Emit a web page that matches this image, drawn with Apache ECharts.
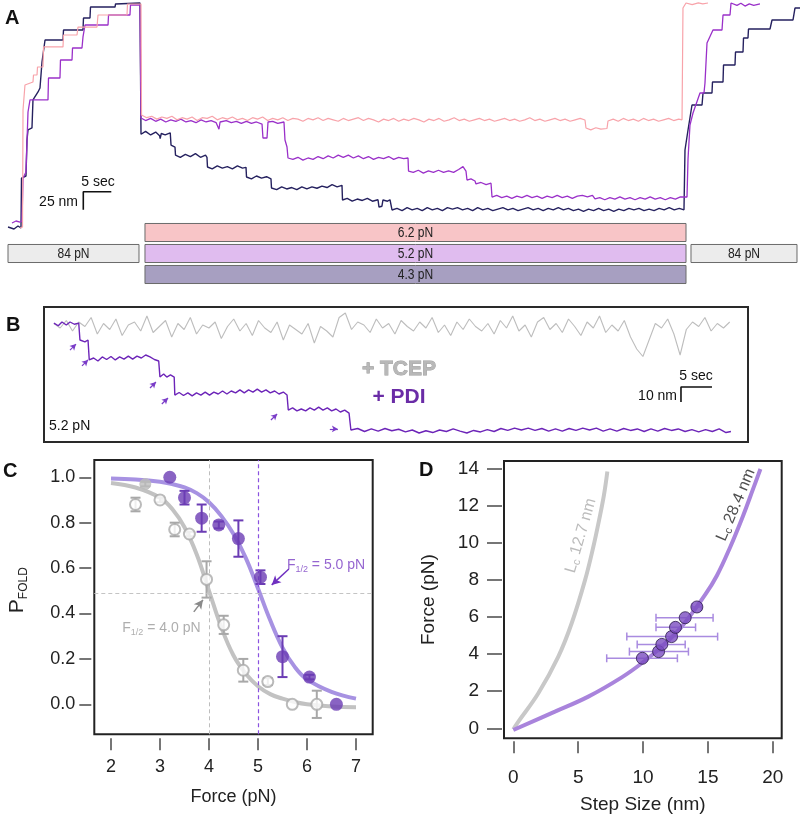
<!DOCTYPE html>
<html><head><meta charset="utf-8">
<script src="https://cdn.jsdelivr.net/npm/echarts@6/dist/echarts.min.js"></script>
<style>html,body{margin:0;padding:0;background:#fff}#c{width:800px;height:816px}</style>
</head><body><div id="c"></div>
<script>
// ================= DATA =================
// Panel A: extension traces, [time (s), extension (nm)]
const navyTraceA = [[1.43,4.2],[2.5,1.4],[3.21,5.6],[3.75,2.8],[3.84,72.2],[4.64,75],[4.82,125],[5,138.9],[5.71,141.7],[5.89,180.6],[6.79,191.7],[7.14,197.2],[7.5,233.3],[8.04,263.9],[11.25,263.9],[11.34,277.8],[14.82,277.8],[14.91,294.4],[16.07,294.4],[16.16,309.7],[20.54,309.7],[20.63,313.9],[25,315.3],
[25.18,133],[26.0,137],[26.9,132],[27.8,136],[28.5,131],[28.6,127],[28.8,134],[29.5,132],[30.4,135],[30.54,118],[31.25,115],
[31.34,104],[32.2,101],[33.1,105],[34.0,102],[34.9,106],[35.8,101],[36.7,104],[36.96,101],
[37.05,87.5],[37.9,85],[38.8,89],[39.7,86],[40.6,88],[41.5,85],[42.4,89],[43.3,86],[43.93,87],
[44.02,73.6],[44.9,71],[45.8,75],[46.7,72],[47.6,74],[48.39,71],
[48.48,58.3],[49.4,56],[50.3,60],[51.2,57],[52.1,59],[53.0,56],[53.9,60],[54.8,57],[55.7,60],[56.6,58],[57.5,61],[58.4,59],[59.3,63],[60.2,60],[61.07,62],
[61.16,41.7],[62.0,44],[62.9,40],[63.8,43],[64.7,41],[65.6,44],[66.5,40],[67.5,42],[67.68,31.9],[68.2,33],[68.39,41.7],[69.2,40],[69.64,42],
[70,27.8],[70.9,30],[71.8,27],[72.7,31],[73.6,28],[74.5,30],[75.4,27],[76.3,31],[77.2,28],[78.1,30],[79.0,27],[79.9,31],[80.8,29],[81.7,31],[82.6,28],[83.5,30],[84.4,27],[85.3,31],[86.2,28],[87.1,30],[88.0,27],[88.9,29],[89.8,31],[90.7,28],[91.6,30],[92.5,27],[93.4,29],[94.3,31],[95.2,28],[96.1,30],[97.0,27],[97.9,30],[98.8,28],[99.7,31],[100.6,28],[101.5,30],[102.4,27],[103.3,29],[104.2,26],[105.1,29],[106.0,27],[106.9,30],[107.8,27],[108.7,29],[109.6,26],[110.5,29],[111.4,27],[112.3,30],[113.2,28],[114.1,30],[115.0,27],[115.9,29],[116.8,27],[117.7,30],[118.6,28],[119.5,31],[120.4,28],[121.3,30],[122.14,28],
[122.32,111.1],[122.86,138.9],[123.57,173.6],[125.36,173.6],[125.54,190.3],[127.14,190.3],[127.23,205.6],[129.11,205.6],[129.2,229.2],[131.25,229.2],[131.34,247.2],[132.68,247.2],[132.77,266.7],[133.57,266.7],[133.66,279.2],[137.5,279.2],[137.86,291.7],[141.61,291.7],[141.96,308.3],[142.86,308.3]];
const purpleTraceA = [[2.14,9.7],[2.86,12.5],[3.57,11.1],[3.93,12.5],[4.11,72.2],[4.64,80.6],[5,163.9],[5.36,180.6],[8.57,180.6],[8.66,211.1],[10.71,211.1],[10.8,236.1],[12.86,236.1],[12.95,252.8],[14.64,252.8],[14.82,268.1],[15.18,284.7],[19.29,284.7],[19.38,298.6],[23.21,298.6],[23.3,312.5],[25,312.5],
[25.18,155.6],[26.0,152],[26.9,155],[27.8,151],[28.7,154],[29.6,150],[30.5,153],[31.4,151],[32.3,154],[33.2,150],[34.1,152],[35.0,149],[35.9,153],[36.8,150],[37.7,152],[38.6,149],[39.1,140],[39.3,150],[40.4,152],[41.3,149],[42.2,151],[43.1,148],[44.0,151],[44.9,148],[45.8,150],[46.79,147.2],[46.96,127.8],[47.68,127.8],[47.86,150],[48.7,151],[49.6,148],[50.71,150],[50.89,125],[51.25,115.3],
[51.43,100],[52.3,98],[53.2,101],[54.1,97],[55.0,100],[55.9,98],[56.8,102],[57.7,99],[58.6,103],[59.5,100],[60.4,104],[61.3,101],[62.2,104],[63.1,100],[64.0,103],[64.9,99],[65.8,102],[66.7,98],[67.6,101],[68.5,99],[69.4,102],[70.3,98],[71.2,101],[72.1,99],[72.86,100],
[72.95,81.9],[73.8,80],[74.7,83],[75.6,79],[76.5,82],[77.4,80],[78.3,83],[79.2,80],[80.1,82],[81.0,80],[81.9,84],[82.68,88],[83.21,81.9],[83.39,69.4],[84.1,71],[84.82,68.1],[85,63.9],[85.9,66],[86.8,63],[87.68,65],
[87.86,45.8],[88.7,48],[89.6,45],[90.5,47],[91.4,44],[92.3,47],[93.2,45],[94.1,48],[95.0,45],[95.9,47],[96.8,44],[97.7,47],[98.6,45],[99.5,48],[100.4,45],[101.3,47],[102.2,44],[103.1,47],[104.0,48],[104.9,46],[105.8,48],[106.25,43.1],[107.1,45],[108.0,42],[108.9,45],[109.8,43],[110.7,46],[111.6,43],[112.5,45],[113.4,42],[114.3,45],[115.2,43],[116.1,46],[117.0,43],[117.9,45],[118.8,42],[119.7,45],[120.6,43],[121.5,46],[122.68,45.8],
[122.86,98.6],[123.21,145.8],[123.75,162.5],[125,190.3],[125.71,190.3],[125.89,204.2],[126.25,259.7],[127.32,277.8],[128.93,277.8],[129.11,298.6],[130.36,298.6],[130.54,315.3],[131.6,312],[132.3,315],[133.04,311],[133.8,314],[134.6,312],[135.71,313.9]];
const pinkTraceA = [[3.57,2.8],[4.02,4.2],[4.11,166.7],[4.46,201.4],[5.89,205.6],[5.98,215.3],[6.61,215.3],[6.7,226.4],[7.68,226.4],[7.77,254.2],[11.25,254.2],[11.34,270.8],[13.75,270.8],[13.93,281.9],[17.32,281.9],[17.5,298.6],[22.68,298.6],[22.77,313.9],[25.18,313.9],
[25.27,159.7],[26.2,156],[27.1,158],[28.0,154],[28.9,157],[29.8,155],[30.7,158],[31.6,153],[32.5,156],[33.4,154],[34.3,157],[35.2,152],[36.1,156],[37.0,155],[37.9,158],[38.8,153],[39.7,156],[40.6,154],[41.5,157],[42.4,153],[43.3,155],[44.2,152],[45.1,156],[46.0,154],[46.9,157],[47.8,152],[48.7,155],[49.6,153],[50.5,156],[51.4,152],[52.3,155],[53.2,154],[54.1,151],[55.0,155],[55.9,153],[56.8,156],[57.7,152],[58.6,155],[59.5,153],[60.4,151],[61.3,155],[62.2,152],[63.1,154],[64.0,156],[64.9,152],[65.8,155],[66.7,153],[67.6,150],[68.5,154],[69.4,152],[70.3,155],[71.2,151],[72.1,154],[73.0,152],[73.9,155],[74.8,153],[75.7,150],[76.6,154],[77.5,152],[78.4,155],[79.3,151],[80.2,153],[81.1,156],[82.0,152],[82.9,154],[83.8,151],[84.7,153],[85.6,155],[86.5,152],[87.4,154],[88.3,151],[89.2,153],[90.1,155],[91.0,152],[91.9,154],[92.8,151],[93.7,153],[94.6,156],[95.5,152],[96.4,154],[97.3,151],[98.2,153],[99.1,155],[100.0,152],[100.9,154],[101.8,151],[102.7,153],[103.6,155],[104.46,152.8],
[104.64,141.7],[105.5,139],[106.4,142],[107.3,140],[108.39,141],[108.57,151.4],[109.5,154],[110.4,151],[111.3,155],[112.2,152],[113.1,154],[114.0,151],[114.9,155],[115.8,152],[116.7,154],[117.6,151],[118.5,153],[119.4,155],[120.3,152],[121.2,154],[121.79,153],
[121.96,308.3],[122.5,315.3],[123.6,313],[124.7,315.5],[125.5,314],[126.43,315.3]];
// Force protocol boxes
const barLabels = ['6.2 pN','84 pN','5.2 pN','84 pN','4.3 pN'];
const barStart = [25.89, 1.43, 25.89, 123.39, 25.89];
const barEnd = [122.5, 24.82, 122.5, 142.32, 122.5];
const barRow = [0, 1, 1, 1, 2];
// Scale bar A: origin (s, nm), 5 sec, 25 nm
const scaleA = [14.875, 53.2, 5, 25];

// Panel B
const tcepStartB = 1.6, tcepStepB = 1.0;
const tcepTraceB = [79,76,81,74,80,77,83,72,79,75, 82,71,78,80,74,84,73,77,81,70, 79,75,83,72,78,76,80,69,77,82,
74,79,71,81,76,73,80,68,78,75, 72,79,66,77,74,70,83,86,75,80, 78,73,82,76,79,72,81,77,74,80,
76,83,73,78,71,80,75,82,77,74, 79,72,81,76,84,74,78,70,80,83, 75,79,73,82,77,71,80,76,84,73,
78,74,81,70,62,57,68,79,76,82, 72,58,75,80,77,83,74,79,76,80];
const pdiTraceB = [[1.6,79.3],[2.3,77.5],[2.9,80],[3.6,78],[4.2,80],[4.9,78.5],[5.6,79.3],[5.8,68],[6.6,66.7],[7.1,68],[7.3,54.7],[8,56],[8.7,54],[9.4,56.7],[10.1,55],[10.8,57],[11.5,54.7],[12.2,56.7],[12.9,55.3],[13.6,57.3],[14.3,55.3],[15,57.3],[15.7,56],[16.4,58],[17.1,56.7],[17.8,55],[18.5,54],[18.7,43.3],[19.3,45.3],[19.8,43.3],[20.4,44.7],[21,43.3],
[21.1,31.3],[21.8,33],[22.5,31],[23.2,32.7],[23.9,30.7],[24.6,32.7],[25.3,31.3],[26,33.3],[26.7,31.3],[27.4,33.3],[28.1,32],[28.8,34],[29.5,32],[30.2,34],[30.9,32.7],[31.6,34.7],[32.3,32.7],[33,34.7],[33.7,33.3],[34.4,35.3],[35.1,33.3],[35.8,34.7],[36.5,32.7],[37.2,34],[37.9,32],[38.6,33.3],[39.2,31.3],
[39.4,21.3],[40.1,22.7],[40.8,20.7],[41.5,22],[42.2,20.7],[42.9,22.7],[43.6,21.3],[44.3,23.3],[45,21.3],[45.7,22.7],[46.4,20.7],[47.1,22],[47.8,20],[48.5,21.3],[49.2,19.3],
[49.5,8],[50.6,9],[51.7,7],[52.8,8.7],[53.9,7.3],[55,9],[56.1,7.5],[57.2,8.5],[58.3,6.7],[59.4,8],[60.5,6],[61.6,7.5],[62.7,6.3],[63.8,8],[64.9,7],[66,8.7],[67.1,7.3],[68.2,6],[69.3,7.7],[70.4,6.7],[71.5,8.3],[72.6,7],[73.7,9],[74.8,7.7],[75.9,9.3],[77,8],[78.1,9.3],[79.2,7.7],[80.3,9],[81.4,7.3],[82.5,8.7],[83.6,7.3],[84.7,9],[85.8,7.7],[86.9,9.3],[88,8],[89.1,9.3],[90.2,7.3],[91.3,8.7],[92.4,7.3],[93.5,9],[94.6,7.7],[95.7,8.7],[96.8,7],[97.9,8.7],[99,7.3],[100.1,9],[101.2,7.7],[102.3,8.7],[103.4,7],[104.5,8.3],[105.6,6.7],[106.7,8.3],[107.8,7],[108.9,8.7],[110,6.3],[110.8,7]];
const arrowsB = [[[4.19,61.3],[5.16,65.3]],[[6.13,50.7],[7.10,54.7]],[[17.1,36],[18.06,40]],[[19.0,25.3],[20.0,29.3]],[[36.6,14.7],[37.6,18.7]],[[46.1,8.7],[47.4,8.7]]];
const scaleB = [102.74, 36.67, 5, 10];

// Panel C: P_FOLD vs force
const tcepForce = [2.5, 2.7, 3.0, 3.3, 3.6, 3.95, 4.3, 4.7, 5.2, 5.7, 6.2];
const tcepP =     [0.88, 0.97, 0.90, 0.77, 0.75, 0.55, 0.35, 0.15, 0.10, 0.00, 0.00];
const tcepErr =   [0.03, 0.01, 0.01, 0.03, 0.01, 0.08, 0.04, 0.05, 0.015, 0, 0.06];
const tcepOpen =  [true, false, true, true, true, true, true, true, true, true, true];
const pdiForce = [3.2, 3.5, 3.85, 4.2, 4.6, 5.05, 5.5, 6.05, 6.6];
const pdiP =     [1.00, 0.91, 0.82, 0.79, 0.73, 0.56, 0.21, 0.12, 0.00];
const pdiErr =   [0, 0.03, 0.06, 0.015, 0.08, 0.03, 0.09, 0.01, 0];
const fitForce = [2, 2.5, 3, 3.25, 3.5, 3.75, 4, 4.25, 4.5, 4.75, 5, 5.25, 5.5, 5.75, 6, 6.5, 7];
const tcepFit = [0.975, 0.955, 0.91, 0.86, 0.78, 0.66, 0.50, 0.34, 0.215, 0.135, 0.08, 0.045, 0.025, 0.01, 0.0, -0.01, -0.013];
const pdiFit =  [0.995, 0.99, 0.98, 0.97, 0.955, 0.93, 0.89, 0.83, 0.75, 0.645, 0.51, 0.37, 0.25, 0.165, 0.11, 0.055, 0.025];
const fHalfTcep = 4.0, fHalfPdi = 5.0, pHalf = 0.49;
const cXTicks = [2,3,4,5,6,7];
const cYTicks = [0,0.2,0.4,0.6,0.8,1.0];

// Panel D: force vs step size
const stepSize = [9.95, 11.2, 11.45, 12.2, 12.5, 13.25, 14.15];
const stepForce = [3.78, 4.14, 4.53, 4.95, 5.45, 5.97, 6.55];
const stepLo = [7.2, 8.95, 9.55, 8.75, 11.0, 11.0, 13.8];
const stepHi = [12.65, 13.5, 13.25, 15.75, 14.05, 15.4, 14.5];
const lc127Ext = [0, 0.39, 1.93, 3.47, 4.5, 5.53, 6.17, 6.6, 6.99, 7.25];
const lc127Force = [-0.05, 0.36, 1.89, 3.87, 5.67, 8.0, 9.8, 11.2, 12.6, 13.86];
const lc284Ext = [0, 3.21, 5.78, 8.36, 9.9, 11.44, 12.98, 14.78, 15.7, 16.7, 17.7, 18.5, 19.05];
const lc284Force = [-0.09, 0.9, 1.71, 2.75, 3.51, 4.41, 5.49, 7.2, 8.25, 9.75, 11.45, 12.95, 14.0];
const dXTicks = [0,5,10,15,20];
const dYTicks = [0,2,4,6,8,10,12,14];

// ================= STYLE / BUILD =================
const FONT = "'Liberation Sans', Arial, Helvetica, sans-serif";
const C_NAVY = '#25215f', C_PURP = '#9a30c9', C_PINK = '#f8a3aa';
const barColors = ['#f8c5c7','#ececec','#e0bcef','#ececec','#a79fc1'];
const zip = (a, b) => a.map((v, i) => [v, b[i]]);

function scaleBar(s) { return [[s[0] + s[2], s[1]], [s[0], s[1]], [s[0], s[1] - s[3]]]; }

function vErr(color) {
  return function (params, api) {
    const x = api.value(0), y = api.value(1), e = api.value(2);
    if (!(e > 0)) return { type: 'group', children: [] };
    const a = api.coord([x, y + e]), b = api.coord([x, y - e]);
    const w = 5, st = { stroke: color, lineWidth: 2 };
    return { type: 'group', children: [
      { type: 'line', shape: { x1: a[0], y1: a[1], x2: b[0], y2: b[1] }, style: st },
      { type: 'line', shape: { x1: a[0] - w, y1: a[1], x2: a[0] + w, y2: a[1] }, style: st },
      { type: 'line', shape: { x1: b[0] - w, y1: b[1], x2: b[0] + w, y2: b[1] }, style: st }
    ]};
  };
}
function hErr(params, api) {
  const y = api.value(1), lo = api.value(2), hi = api.value(3);
  const a = api.coord([lo, y]), b = api.coord([hi, y]);
  const h = 4, st = { stroke: '#a98be0', lineWidth: 1.5 };
  return { type: 'group', children: [
    { type: 'line', shape: { x1: a[0], y1: a[1], x2: b[0], y2: b[1] }, style: st },
    { type: 'line', shape: { x1: a[0], y1: a[1] - h, x2: a[0], y2: a[1] + h }, style: st },
    { type: 'line', shape: { x1: b[0], y1: b[1] - h, x2: b[0], y2: b[1] + h }, style: st }
  ]};
}

const hiddenAxis = (min, max, extra) => Object.assign({ type: 'value', min: min, max: max, show: false }, extra || {});

const grids = [
  { left: 0, top: 0, width: 800, height: 230 },
  { left: 0, top: 222, width: 800, height: 63 },
  { left: 44, top: 307, width: 704, height: 135, show: true, borderColor: '#2a2a2a', borderWidth: 2 },
  { left: 94.3, top: 460, width: 278.4, height: 274.3, show: true, borderColor: '#222', borderWidth: 2 },
  { left: 504, top: 461, width: 277.7, height: 277.3, show: true, borderColor: '#222', borderWidth: 2 }
].map(g => Object.assign({ containLabel: false, outerBoundsMode: 'none' }, g));

const tickStyle = { color: '#4a4a4a', width: 1.5 };
const noLine = { show: false, onZero: false };
const xAxes = [
  hiddenAxis(0, 142.857, { gridIndex: 0 }),
  hiddenAxis(0, 142.857, { gridIndex: 1 }),
  hiddenAxis(0, 113.55, { gridIndex: 2 }),
  { type: 'value', gridIndex: 3, min: 1.659, max: 7.341, offset: 4, splitLine: { show: false },
    axisLine: noLine, axisTick: { show: true, length: 12, lineStyle: tickStyle, customValues: cXTicks },
    axisLabel: { customValues: cXTicks, fontSize: 18, color: '#222', margin: 20, fontFamily: FONT },
    name: 'Force (pN)', nameLocation: 'middle', nameGap: 50, nameTextStyle: { fontSize: 18, color: '#222', fontFamily: FONT } },
  { type: 'value', gridIndex: 4, min: -0.717, max: 20.69, offset: 3, splitLine: { show: false },
    axisLine: noLine, axisTick: { show: true, length: 12, lineStyle: tickStyle, customValues: dXTicks },
    axisLabel: { customValues: dXTicks, fontSize: 19, color: '#222', margin: 27, fontFamily: FONT },
    name: 'Step Size (nm)', nameLocation: 'middle', nameGap: 54, nameTextStyle: { fontSize: 19, color: '#222', fontFamily: FONT } }
];
const yAxes = [
  hiddenAxis(0, 319.44, { gridIndex: 0 }),
  hiddenAxis(0, 3, { gridIndex: 1, inverse: true }),
  hiddenAxis(0, 90, { gridIndex: 2 }),
  { type: 'value', gridIndex: 3, min: -0.132, max: 1.076, offset: 3, splitLine: { show: false },
    axisLine: noLine, axisTick: { show: true, length: 12, lineStyle: tickStyle, customValues: cYTicks },
    axisLabel: { customValues: cYTicks, fontSize: 18, color: '#222', margin: 16, fontFamily: FONT, formatter: v => v.toFixed(1) },
    name: '{p|P}{s|FOLD}', nameLocation: 'middle', nameGap: 62, nameRotate: 90,
    nameTextStyle: { fontFamily: FONT, color: '#222', padding: [0, 0, 0, 14], rich: { p: { fontSize: 21, fontFamily: FONT, color: '#222', lineHeight: 24 }, s: { fontSize: 12, fontFamily: FONT, color: '#222', verticalAlign: 'bottom', lineHeight: 12 } } } },
  { type: 'value', gridIndex: 4, min: -0.54, max: 14.43, offset: 2, splitLine: { show: false },
    axisLine: noLine, axisTick: { show: true, length: 15, lineStyle: tickStyle, customValues: dYTicks },
    axisLabel: { customValues: dYTicks, fontSize: 19, color: '#222', margin: 23, fontFamily: FONT },
    name: 'Force (pN)', nameLocation: 'middle', nameGap: 64, nameRotate: 90, nameTextStyle: { fontSize: 19, color: '#222', fontFamily: FONT } }
];

const trace = (data, color, w, idx) => ({ type: 'line', xAxisIndex: idx, yAxisIndex: idx, data: data, symbol: 'none', silent: true,
  lineStyle: { color: color, width: w }, z: 2 });

const annRich = (color, size, subSize) => ({
  f: { fontSize: size, color: color, fontFamily: FONT, lineHeight: 18 },
  s: { fontSize: subSize, color: color, fontFamily: FONT, verticalAlign: 'bottom', lineHeight: subSize },
  t: { fontSize: size, color: color, fontFamily: FONT, lineHeight: 18 } });

const series = [
  // Panel A
  trace(navyTraceA, C_NAVY, 1.4, 0),
  trace(purpleTraceA, C_PURP, 1.3, 0),
  trace(pinkTraceA, C_PINK, 1.2, 0),
  { type: 'line', xAxisIndex: 0, yAxisIndex: 0, data: scaleBar(scaleA), symbol: 'none', lineStyle: { color: '#111', width: 1.6 } },
  { type: 'custom', xAxisIndex: 1, yAxisIndex: 1, data: barStart.map((s, i) => [s, barEnd[i], barRow[i]]),
    renderItem: function (params, api) {
      const i = params.dataIndex, r = api.value(2) + 0.5;
      const p0 = api.coord([api.value(0), r]), p1 = api.coord([api.value(1), r]);
      const h = api.size([0, 0.86])[1];
      return { type: 'group', children: [
        { type: 'rect', shape: { x: p0[0], y: p0[1] - h / 2, width: p1[0] - p0[0], height: h }, style: { fill: barColors[i], stroke: '#6a6a6a', lineWidth: 1 } },
        { type: 'text', x: (p0[0] + p1[0]) / 2, y: p0[1] + 0.5, scaleX: 0.86, style: { text: barLabels[i], x: 0, y: 0, align: 'center', verticalAlign: 'middle', fill: '#222', font: "14px 'Liberation Sans Narrow', 'Liberation Sans', Arial" } }
      ]};
    } },
  // Panel B
  trace(tcepTraceB.map((v, i) => [tcepStartB + i * tcepStepB, v]), '#bdbdbd', 1.1, 2),
  Object.assign(trace(pdiTraceB, '#6c24b8', 1.4, 2), {
    markLine: { silent: true, symbol: ['none', 'arrow'], symbolSize: [5, 6], label: { show: false },
      lineStyle: { color: '#7a3cc8', width: 1.2, type: 'solid' },
      data: arrowsB.map(a => [{ coord: a[0] }, { coord: a[1] }]) } }),
  { type: 'line', xAxisIndex: 2, yAxisIndex: 2, data: scaleBar(scaleB), symbol: 'none', lineStyle: { color: '#111', width: 1.6 } },
  // Panel C
  { type: 'line', xAxisIndex: 3, yAxisIndex: 3, data: zip(fitForce, tcepFit), symbol: 'none', smooth: 0.4,
    lineStyle: { color: '#c2c2c2', width: 4 }, z: 3,
    markLine: { silent: true, symbol: ['none', 'none'], label: { show: false },
      data: [
        { xAxis: fHalfTcep, lineStyle: { color: '#bdbdbd', width: 1, type: [4, 3] } },
        { xAxis: fHalfPdi, lineStyle: { color: '#8a52e0', width: 1.2, type: [4, 3] } },
        { yAxis: pHalf, lineStyle: { color: '#c4c4c4', width: 1, type: [4, 3] } }
      ] } },
  { type: 'line', xAxisIndex: 3, yAxisIndex: 3, data: zip(fitForce, pdiFit), symbol: 'none', smooth: 0.4,
    lineStyle: { color: '#a792e2', width: 4 }, z: 3 },
  { type: 'custom', xAxisIndex: 3, yAxisIndex: 3, data: tcepForce.map((f, i) => [f, tcepP[i], tcepErr[i]]), renderItem: vErr('#a8a8a8'), z: 4 },
  { type: 'custom', xAxisIndex: 3, yAxisIndex: 3, data: pdiForce.map((f, i) => [f, pdiP[i], pdiErr[i]]), renderItem: vErr('#6b3cb4'), z: 4 },
  { type: 'scatter', xAxisIndex: 3, yAxisIndex: 3, symbol: 'circle', symbolSize: 11, z: 5,
    data: tcepForce.map((f, i) => ({ value: [f, tcepP[i]], itemStyle: tcepOpen[i] ? { color: '#fff', borderColor: '#aaa', borderWidth: 2 } : { color: '#bdbdbd', borderColor: '#bdbdbd', borderWidth: 1 } })) },
  { type: 'scatter', xAxisIndex: 3, yAxisIndex: 3, symbol: 'circle', symbolSize: 13, z: 5,
    data: zip(pdiForce, pdiP), itemStyle: { color: '#6b3cb4' } },
  { type: 'scatter', xAxisIndex: 3, yAxisIndex: 3, symbolSize: 0, z: 6, silent: true,
    data: [[5.59, 0.614]],
    label: { show: true, position: 'inside', align: 'left', verticalAlign: 'middle', formatter: '{f|F}{s|1/2}{t| = 5.0 pN}', rich: annRich('#7b3fc4', 14, 9) },
    markLine: { silent: true, symbol: ['none', 'arrow'], symbolSize: [7, 9], label: { show: false },
      lineStyle: { color: '#6f30c0', width: 1.5, type: 'solid' }, data: [[{ coord: [5.63, 0.596] }, { coord: [5.28, 0.526] }]] } },
  { type: 'scatter', xAxisIndex: 3, yAxisIndex: 3, symbolSize: 0, z: 6, silent: true,
    data: [[2.23, 0.336]],
    label: { show: true, position: 'inside', align: 'left', verticalAlign: 'middle', formatter: '{f|F}{s|1/2}{t| = 4.0 pN}', rich: annRich('#9a9a9a', 14, 9) },
    markLine: { silent: true, symbol: ['none', 'arrow'], symbolSize: [7, 9], label: { show: false },
      lineStyle: { color: '#8a8a8a', width: 1.5, type: 'solid' }, data: [[{ coord: [3.69, 0.407] }, { coord: [3.877, 0.46] }]] } },
  // Panel D
  { type: 'line', xAxisIndex: 4, yAxisIndex: 4, data: zip(lc127Ext, lc127Force), symbol: 'none', smooth: 0.4,
    lineStyle: { color: '#c8c8c8', width: 4 }, z: 3 },
  { type: 'line', xAxisIndex: 4, yAxisIndex: 4, data: zip(lc284Ext, lc284Force), symbol: 'none', smooth: 0.4,
    lineStyle: { color: '#a984dc', width: 4 }, z: 3 },
  { type: 'custom', xAxisIndex: 4, yAxisIndex: 4, data: stepSize.map((s, i) => [s, stepForce[i], stepLo[i], stepHi[i]]), renderItem: hErr, z: 4 },
  { type: 'scatter', xAxisIndex: 4, yAxisIndex: 4, symbol: 'circle', symbolSize: 12, z: 5,
    data: zip(stepSize, stepForce), itemStyle: { color: '#7a4cc0', borderColor: '#2b1a4a', borderWidth: 1 } },
  { type: 'scatter', xAxisIndex: 4, yAxisIndex: 4, symbolSize: 0, z: 6, silent: true,
    data: [{ value: [5.2, 10.4], label: { rotate: 74, formatter: '{f|L}{s|c}{t| 12.7 nm}', rich: annRich('#aaa', 16, 11) } },
           { value: [17.17, 12.06], label: { rotate: 67, formatter: '{f|L}{s|c}{t| 28.4 nm}', rich: annRich('#222', 16, 11) } }],
    label: { show: true, position: 'inside', align: 'center', verticalAlign: 'middle' } }
];

const txt = (text, x, y, font, fill, align, va, extra) => ({ type: 'text', x: x, y: y, silent: true,
  style: Object.assign({ text: text, font: font, fill: fill, align: align || 'left', verticalAlign: va || 'top' }, extra || {}) });
const graphic = [
  txt('A', 5, 8, 'bold 20px ' + FONT, '#111'),
  txt('B', 6, 315, 'bold 20px ' + FONT, '#111'),
  txt('C', 3, 461, 'bold 20px ' + FONT, '#111'),
  txt('D', 419, 460, 'bold 20px ' + FONT, '#111'),
  txt('5 sec', 98, 182, '14px ' + FONT, '#111', 'center', 'middle'),
  txt('25 nm', 78, 202, '14px ' + FONT, '#111', 'right', 'middle'),
  txt('5 sec', 696, 376, '14px ' + FONT, '#111', 'center', 'middle'),
  txt('10 nm', 677, 396, '14px ' + FONT, '#111', 'right', 'middle'),
  txt('5.2 pN', 49, 426, '14px ' + FONT, '#111', 'left', 'middle'),
  txt('+ TCEP', 399, 369, 'bold 21px ' + FONT, '#b8b8b8', 'center', 'middle', { stroke: '#9a9a9a', lineWidth: 0.8 }),
  txt('+ PDI', 399, 397, 'bold 21px ' + FONT, '#6a2ca6', 'center', 'middle')
];

const chart = echarts.init(document.getElementById('c'), null, { renderer: 'canvas' });
chart.setOption({ animation: false, backgroundColor: '#fff', grid: grids, xAxis: xAxes, yAxis: yAxes, series: series, graphic: graphic });
</script></body></html>
